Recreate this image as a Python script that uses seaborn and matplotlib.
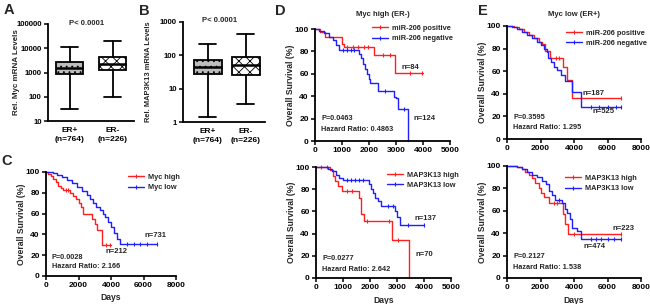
import numpy as np
import seaborn as sns
import matplotlib
matplotlib.use("Agg")
import matplotlib.pyplot as plt
from matplotlib.lines import Line2D

# ---------------- data ----------------
# box plots (summary stats)
er_labels = ["ER+\n(n=764)", "ER-\n(n=226)"]
myc_med = [1600, 2300]
myc_q1 = [870, 1270]
myc_q3 = [2800, 4200]
myc_lo = [31, 100]
myc_hi = [11600, 20000]

map_med = [45, 50]
map_q1 = [27, 26]
map_q3 = [73, 90]
map_lo = [1.4, 3.5]
map_hi = [220, 440]

# Kaplan-Meier curves: event times (days), survival (%), last follow-up, censor times
c_high_t = [0, 150, 300, 450, 600, 750, 900, 1050, 1500, 1650, 1850, 2000, 2150, 2300, 2850, 3000, 3130, 3430]
c_high_s = [100, 98, 96, 93, 90, 87, 85, 83, 80, 77, 74, 70, 66, 60, 55, 50, 44, 30]
c_high_end = 4000
c_high_cens = [1200, 1350, 3700, 3950]
c_low_t = [0, 400, 700, 1000, 1300, 1600, 1900, 2200, 2500, 2700, 2900, 3100, 3300, 3500, 3650, 3800, 4000, 4200, 4350, 4540]
c_low_s = [100, 99, 97, 95, 92, 89, 86, 82, 78, 74, 70, 66, 63, 60, 57, 52, 47, 41, 36, 31]
c_low_end = 6800
c_low_cens = [5000, 5400, 5800, 6200, 6800]

d1_pos_t = [0, 180, 380, 1000, 1070, 2190, 2960]
d1_pos_s = [100, 97, 93, 87, 84, 77, 61]
d1_pos_end = 3990
d1_pos_cens = [1180, 1420, 1600, 1800, 1960, 2520, 2780, 3520, 3960]
d1_neg_t = [0, 150, 350, 500, 650, 780, 900, 1620, 1700, 1770, 1850, 1920, 2000, 2050, 2330, 2920, 3000, 3080, 3440]
d1_neg_s = [100, 98, 96, 93, 90, 86, 81, 78, 74, 69, 64, 60, 55, 52, 45, 39, 38, 29, 0]
d1_neg_end = 3440
d1_neg_cens = [1050, 1200, 1350, 1450, 2600, 3300]

d2_high_t = [0, 520, 620, 720, 830, 960, 1600, 1680, 1780, 2830, 3460]
d2_high_s = [100, 97, 92, 87, 83, 78, 72, 58, 51, 34, 0]
d2_high_end = 3460
d2_high_cens = [200, 400, 1150, 1350, 1900, 2700, 3050]
d2_low_t = [0, 450, 600, 750, 850, 1000, 1950, 2020, 2100, 2180, 2300, 2400, 2930, 3000, 3100]
d2_low_s = [100, 98, 96, 93, 90, 88, 85, 80, 77, 72, 69, 65, 60, 55, 48]
d2_low_end = 4000
d2_low_cens = [1150, 1300, 1450, 1600, 1750, 2650, 2850, 3400, 4000]

e1_pos_t = [0, 400, 700, 1000, 1300, 1600, 1900, 2100, 2280, 2580, 3350, 3600, 3890]
e1_pos_s = [100, 99, 97, 95, 92, 89, 86, 84, 78, 72, 64, 52, 36]
e1_pos_end = 6800
e1_pos_cens = [2900, 3100, 6800]
e1_neg_t = [0, 300, 600, 900, 1200, 1500, 1800, 2000, 2200, 2400, 2460, 2600, 2800, 3000, 3200, 3470, 3890, 4430]
e1_neg_s = [100, 99, 97, 95, 92, 89, 86, 83, 80, 77, 72, 68, 64, 61, 57, 51, 42, 28]
e1_neg_end = 6800
e1_neg_cens = [5000, 5500, 6000, 6500, 6800]

e2_high_t = [0, 600, 900, 1100, 1300, 1500, 1700, 1900, 2050, 2220, 2510, 3350, 3470, 3630]
e2_high_s = [100, 99, 97, 95, 92, 89, 85, 80, 76, 72, 67, 57, 48, 39]
e2_high_end = 6800
e2_high_cens = [2800, 3000, 4000, 6800]
e2_low_t = [0, 600, 900, 1200, 1500, 1800, 2100, 2300, 2500, 2700, 2870, 3300, 3450, 3600, 3750, 3890, 4200, 4430]
e2_low_s = [100, 99, 97, 95, 92, 90, 87, 84, 78, 74, 70, 67, 62, 58, 53, 45, 42, 35]
e2_low_end = 6800
e2_low_cens = [3100, 5000, 5300, 5600, 6000, 6400, 6800]

RED = "#ff2020"
BLUE = "#2020ff"

# ---------------- style ----------------
sns.set_theme(style="ticks")
plt.rcParams["font.family"] = ["Liberation Sans", "DejaVu Sans"]
plt.rcParams["font.weight"] = "bold"
plt.rcParams["axes.labelweight"] = "bold"
plt.rcParams["hatch.linewidth"] = 0.6

W, H = 650, 304
fig = plt.figure(figsize=(W / 100, H / 100), dpi=100)

TICK_FS = 6.0
LAB_FS = 6.2
ANN_FS = 5.3


def add_ax(l, t, r, b):
    return fig.add_axes([l / W, 1 - b / H, (r - l) / W, (b - t) / H])


def style_ax(ax):
    sns.despine(ax=ax)
    for s in ["left", "bottom"]:
        ax.spines[s].set_linewidth(1.3)
        ax.spines[s].set_color("black")
    ax.tick_params(axis="both", labelsize=TICK_FS, width=1.1, length=3, pad=1.5, colors="black")


def bold_ticks(ax):
    for lab in ax.get_xticklabels() + ax.get_yticklabels():
        lab.set_fontweight("bold")


def box_panel(ax, med, q1, q3, lo, hi, width, ylim, ylabel, label_x, label_fs):
    stats = []
    for i in range(len(med)):
        stats.append(dict(med=med[i], q1=q1[i], q3=q3[i], whislo=lo[i], whishi=hi[i], fliers=[]))
    bp = ax.bxp(stats, positions=[1, 2], widths=width, patch_artist=True, showfliers=False,
                boxprops=dict(linewidth=1.3, edgecolor="black"),
                whiskerprops=dict(linewidth=1.3, color="black"),
                capprops=dict(linewidth=1.3, color="black"),
                medianprops=dict(linewidth=1.8, color="black"),
                capwidths=width * 0.6)
    bp["boxes"][0].set_facecolor("#bdbdbd")
    bp["boxes"][0].set_hatch("...")
    bp["boxes"][1].set_facecolor("white")
    bp["boxes"][1].set_hatch("xxx")
    ax.set_yscale("log")
    ax.set_ylim(*ylim)
    ax.yaxis.set_major_formatter(matplotlib.ticker.FuncFormatter(lambda v, p: f"{v:g}"))
    ax.yaxis.set_minor_locator(matplotlib.ticker.NullLocator())
    ax.set_xticks([1, 2])
    ax.set_xticklabels(er_labels, linespacing=1.5)
    style_ax(ax)
    ax.tick_params(axis="x", length=0, pad=4)
    ax.tick_params(axis="y", labelsize=5.6)
    ax.set_ylabel(ylabel, fontsize=label_fs, fontweight="bold")
    ax.yaxis.set_label_coords(label_x, 0.5)
    ax.text(0.45, 1.01, "P< 0.0001", transform=ax.transAxes, ha="center", va="center",
            fontsize=ANN_FS + 0.2, fontweight="bold")


def km_curve(ax, t, s, end, cens, color):
    x = list(t) + [end]
    y = list(s) + [s[-1]]
    sns.lineplot(x=x, y=y, ax=ax, drawstyle="steps-post", color=color, linewidth=1.0,
                 estimator=None, sort=False, clip_on=False)
    idx = np.searchsorted(np.array(t), np.array(cens), side="right") - 1
    ax.plot(cens, np.array(s)[idx], linestyle="none", marker="|", markersize=2.5,
            markeredgewidth=0.8, color=color, clip_on=False)


def km_panel(ax, xmax, xstep, curves, labels, leg_xy, pinfo, nlabels, days=False, title=None, title_pad=8):
    for (t, s, end, cens, color) in curves:
        km_curve(ax, t, s, end, cens, color)
    ax.set_xlim(0, xmax)
    ax.set_ylim(0, 100)
    ax.set_xticks(np.arange(0, xmax + 1, xstep))
    ax.set_yticks([0, 20, 40, 60, 80, 100])
    style_ax(ax)
    ax.set_ylabel("Overall Survival (%)", fontsize=LAB_FS, fontweight="bold")
    ax.yaxis.set_label_coords(-0.15, 0.5)
    if days:
        ax.set_xlabel("Days", fontsize=LAB_FS, fontweight="bold")
        ax.xaxis.set_label_coords(0.5, -0.16)
    else:
        ax.set_xlabel("")
    if title:
        ax.set_title(title, fontsize=ANN_FS + 0.2, fontweight="bold", pad=title_pad)
    handles = [Line2D([], [], color=c[4], linewidth=1.0, marker="|", markersize=2.5,
                      markeredgewidth=0.8) for c in curves]
    ax.legend(handles, labels, loc="upper left", bbox_to_anchor=leg_xy, frameon=False,
              handlelength=2.2, handletextpad=0.5, labelspacing=0.45,
              borderpad=0, borderaxespad=0, prop=dict(weight="bold", size=ANN_FS))
    ax.text(0.045, pinfo[0], pinfo[2], transform=ax.transAxes, fontsize=ANN_FS,
            fontweight="bold", va="center")
    ax.text(0.045, pinfo[1], pinfo[3], transform=ax.transAxes, fontsize=ANN_FS,
            fontweight="bold", va="center")
    for (xx, yy, txt) in nlabels:
        ax.text(xx, yy, txt, fontsize=ANN_FS + 0.2, fontweight="bold", ha="center", va="center")


# ---------------- panels ----------------
axA = add_ax(48, 24, 134, 121)
box_panel(axA, myc_med, myc_q1, myc_q3, myc_lo, myc_hi, 0.65, (10, 100000),
          "Rel. Myc mRNA Levels", -0.33, 5.8)
axA.set_xlim(0.5, 2.5)

axB = add_ax(183, 22, 265, 122)
box_panel(axB, map_med, map_q1, map_q3, map_lo, map_hi, 0.74, (1, 1000),
          "Rel. MAP3K13 mRNA Levels", -0.38, 5.4)
axB.set_xlim(0.35, 2.5)

axC = add_ax(46, 172, 176, 276)
km_panel(axC, 8000, 2000,
         [(c_high_t, c_high_s, c_high_end, c_high_cens, RED),
          (c_low_t, c_low_s, c_low_end, c_low_cens, BLUE)],
         ["Myc high", "Myc low"], (0.63, 0.985),
         (0.18, 0.09, "P=0.0028", "Hazard Ratio: 2.166"),
         [(6750, 39, "n=731"), (4360, 24, "n=212")], days=True)

axD1 = add_ax(315, 29, 450, 141)
km_panel(axD1, 5000, 1000,
         [(d1_pos_t, d1_pos_s, d1_pos_end, d1_pos_cens, RED),
          (d1_neg_t, d1_neg_s, d1_neg_end, d1_neg_cens, BLUE)],
         ["miR-206 positive", "miR-206 negative"], (0.42, 1.04),
         (0.2, 0.107, "P=0.0463", "Hazard Ratio: 0.4863"),
         [(3520, 66, "n=84"), (4070, 20, "n=124")], title="Myc high (ER-)", title_pad=9)

axD2 = add_ax(316, 167, 451, 278)
km_panel(axD2, 5000, 1000,
         [(d2_high_t, d2_high_s, d2_high_end, d2_high_cens, RED),
          (d2_low_t, d2_low_s, d2_low_end, d2_low_cens, BLUE)],
         ["MAP3K13 high", "MAP3K13 low"], (0.526, 0.96),
         (0.18, 0.08, "P=0.0277", "Hazard Ratio: 2.642"),
         [(4040, 54, "n=137"), (4000, 21, "n=70")], days=True)

axE1 = add_ax(507, 26, 641, 139)
km_panel(axE1, 8000, 2000,
         [(e1_pos_t, e1_pos_s, e1_pos_end, e1_pos_cens, RED),
          (e1_neg_t, e1_neg_s, e1_neg_end, e1_neg_cens, BLUE)],
         ["miR-206 positive", "miR-206 negative"], (0.44, 0.97),
         (0.19, 0.1, "P=0.3595", "Hazard Ratio: 1.295"),
         [(5190, 40, "n=187"), (5790, 24, "n=525")], title="Myc low (ER+)", title_pad=7)

axE2 = add_ax(507, 166, 641, 278)
km_panel(axE2, 8000, 2000,
         [(e2_high_t, e2_high_s, e2_high_end, e2_high_cens, RED),
          (e2_low_t, e2_low_s, e2_low_end, e2_low_cens, BLUE)],
         ["MAP3K13 high", "MAP3K13 low"], (0.433, 0.924),
         (0.19, 0.09, "P=0.2127", "Hazard Ratio: 1.538"),
         [(6930, 44, "n=223"), (5200, 28, "n=474")], days=True)

for ax in [axA, axB, axC, axD1, axD2, axE1, axE2]:
    bold_ticks(ax)

# panel letters
for x, y, letter in [(4, 3, "A"), (139, 4, "B"), (1, 154, "C"), (275, 4, "D"), (478, 4, "E")]:
    fig.text(x / W, 1 - y / H, letter, fontsize=10.5, fontweight="bold", va="top", ha="left")

fig.savefig("out.png", dpi=100)
